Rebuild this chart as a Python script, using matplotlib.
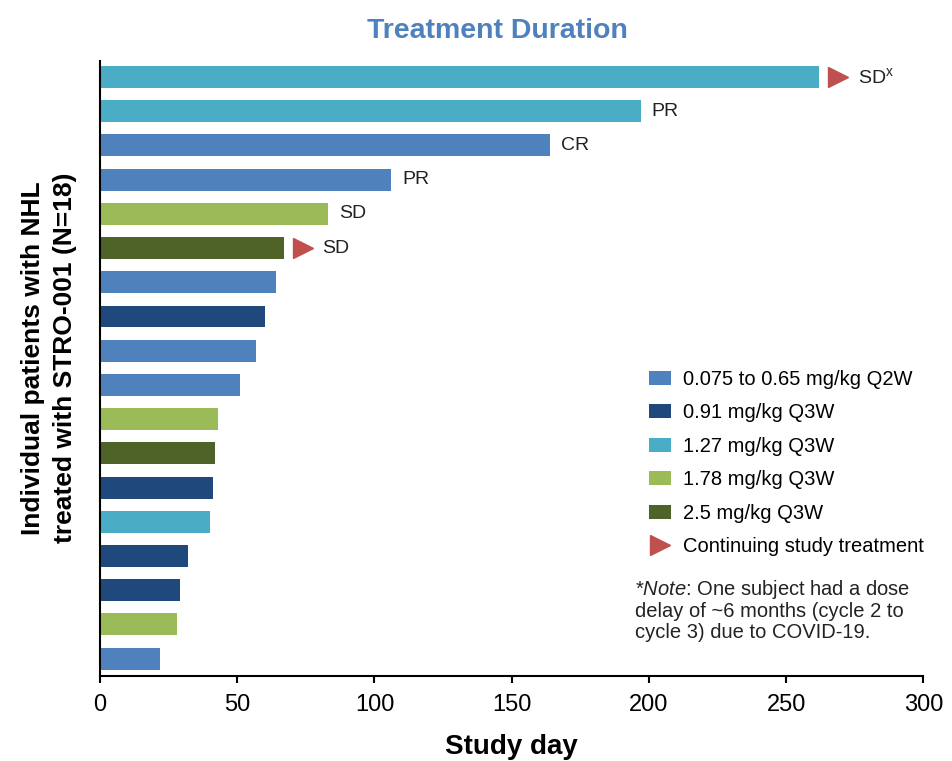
import matplotlib.pyplot as plt
from matplotlib.patches import Patch
from matplotlib.lines import Line2D

plt.rcParams['font.family'] = ['Liberation Sans', 'DejaVu Sans']
plt.rcParams['mathtext.fontset'] = 'custom'
plt.rcParams['mathtext.rm'] = 'Liberation Sans'
plt.rcParams['mathtext.it'] = 'Liberation Sans:italic'

# patients from top to bottom
days = [262, 197, 164, 106, 83, 67, 64, 60, 57, 51, 43, 42, 41, 40, 32, 29, 28, 22]
dose = ['1.27', '1.27', '0.075', '0.075', '1.78', '2.5', '0.075', '0.91', '0.075', '0.075',
        '1.78', '2.5', '0.91', '1.27', '0.91', '0.91', '1.78', '0.075']
response = ['SD$^{\\mathrm{x}}$', 'PR', 'CR', 'PR', 'SD', 'SD'] + [''] * 12
continuing = [True, False, False, False, False, True] + [False] * 12

dose_labels = ['0.075 to 0.65 mg/kg Q2W', '0.91 mg/kg Q3W', '1.27 mg/kg Q3W',
               '1.78 mg/kg Q3W', '2.5 mg/kg Q3W']
dose_keys = ['0.075', '0.91', '1.27', '1.78', '2.5']
dose_colors = {'0.075': '#4F81BD', '0.91': '#1F497D', '1.27': '#4BACC6',
               '1.78': '#9BBB59', '2.5': '#4F6228'}
red = '#C0504D'

fig = plt.figure(figsize=(9.52, 7.61), dpi=100)
ax = fig.add_axes([0.105, 0.112, 0.865, 0.808])

n = len(days)
ypos = [n - 1 - i for i in range(n)]
ax.barh(ypos, days, height=0.64, color=[dose_colors[d] for d in dose])

for i in range(n):
    x = days[i] + 4
    if continuing[i]:
        ax.plot(days[i] + 7, ypos[i], marker='>', color=red, markersize=15, clip_on=False)
        x = days[i] + 14
    if response[i]:
        ax.text(x, ypos[i], response[i], va='center', ha='left', fontsize=14, color='#222222')

ax.set_xlim(0, 300)
ax.set_ylim(-0.5, 17.47)
ax.set_xticks([0, 50, 100, 150, 200, 250, 300])
ax.tick_params(axis='x', labelsize=17, length=5, width=1.5, direction='out', pad=8)
ax.set_yticks([])
for s in ['top', 'right']:
    ax.spines[s].set_visible(False)
ax.spines['left'].set_linewidth(1.5)
ax.spines['bottom'].set_linewidth(1.5)

ax.set_xlabel('Study day', fontsize=20, fontweight='bold', labelpad=13)
ax.set_ylabel('Individual patients with NHL\ntreated with STRO-001 (N=18)', fontsize=19,
              fontweight='bold', linespacing=1.4)
ax.yaxis.set_label_coords(-0.028, 0.517)
fig.text(0.523, 0.959, 'Treatment Duration', fontsize=20.5, fontweight='bold', color='#4F81BD',
         ha='center', va='center')

handles = [Patch(facecolor=dose_colors[k]) for k in dose_keys]
handles.append(Line2D([], [], marker='>', color=red, linestyle='none', markersize=15))
labels = dose_labels + ['Continuing study treatment']
ax.legend(handles, labels, loc='upper left', bbox_to_anchor=(0.645, 0.527), frameon=False,
          fontsize=14.5, handlelength=1.1, handleheight=0.7, labelspacing=0.72, handletextpad=0.6)

fig.text(0.667, 0.241, '*$\\it{Note}$: One subject had a dose\ndelay of ~6 months (cycle 2 to\ncycle 3) due to COVID-19.',
         fontsize=14.5, va='top', ha='left', color='#222222', linespacing=1.1)

fig.savefig('out.png', dpi=100)
